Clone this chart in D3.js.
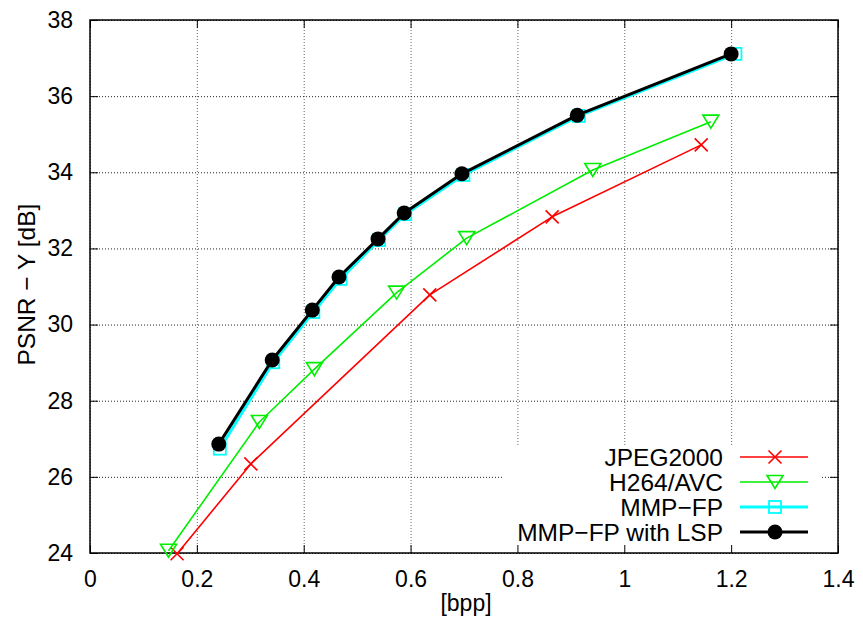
<!DOCTYPE html>
<html>
<head>
<meta charset="utf-8">
<script src="https://cdn.jsdelivr.net/npm/d3@7/dist/d3.min.js"></script>
<style>
  html, body { margin: 0; padding: 0; background: #fff; }
  text { font-family: "Liberation Sans", Arial, Helvetica, sans-serif; fill: #000; }
</style>
</head>
<body>
<svg id="chart" width="863" height="622"></svg>
<script>
// Rate–distortion curves: PSNR of the luma channel against bit rate.
const xTicks = [0, 0.2, 0.4, 0.6, 0.8, 1, 1.2, 1.4];
const xTickLabels = ["0", "0.2", "0.4", "0.6", "0.8", "1", "1.2", "1.4"];
const yTicks = [24, 26, 28, 30, 32, 34, 36, 38];
const yTickLabels = ["24", "26", "28", "30", "32", "34", "36", "38"];

const seriesNames = ["JPEG2000", "H264/AVC", "MMP\u2212FP", "MMP\u2212FP with LSP"];

const jpegRate = [0.163, 0.301, 0.636, 0.865, 1.144];
const jpegPsnr = [23.98, 26.34, 30.78, 32.83, 34.72];

const h264Rate = [0.147, 0.317, 0.420, 0.574, 0.705, 0.941, 1.162];
const h264Psnr = [24.06, 27.44, 28.83, 30.84, 32.27, 34.06, 35.33];

const mmpRate = [0.243, 0.343, 0.418, 0.469, 0.541, 0.590, 0.699, 0.915, 1.208];
const mmpPsnr = [26.74, 29.01, 30.33, 31.20, 32.22, 32.90, 33.93, 35.48, 37.11];

const lspRate = [0.241, 0.341, 0.416, 0.466, 0.539, 0.588, 0.696, 0.912, 1.200];
const lspPsnr = [26.86, 29.07, 30.38, 31.25, 32.25, 32.93, 33.96, 35.50, 37.11];

const svg = d3.select("#chart");
const margin = { left: 90, top: 20, right: 25, bottom: 69 };
const W = 863, H = 622;
const iw = W - margin.left - margin.right;
const ih = H - margin.top - margin.bottom;

const x = d3.scaleLinear().domain([0, 1.4]).range([0, iw]);
const y = d3.scaleLinear().domain([24, 38]).range([ih, 0]);

const g = svg.append("g").attr("transform", `translate(${margin.left},${margin.top})`);

// dotted grid
g.append("g")
  .attr("transform", `translate(0,${ih})`)
  .call(d3.axisBottom(x).tickValues(xTicks).tickSize(-ih).tickFormat(""))
  .call(a => a.select(".domain").remove())
  .call(a => a.selectAll("line").attr("stroke", "#666").attr("stroke-dasharray", "1,2"));
g.append("g")
  .call(d3.axisLeft(y).tickValues(yTicks).tickSize(-iw).tickFormat(""))
  .call(a => a.select(".domain").remove())
  .call(a => a.selectAll("line").attr("stroke", "#222").attr("stroke-dasharray", "1,2"));

// legend background clears the grid behind the key
const legend = { right: iw - 16, top: ih - 108, rowH: 25 };
g.append("rect")
  .attr("x", 412).attr("y", legend.top)
  .attr("width", legend.right - 412).attr("height", ih - legend.top)
  .attr("fill", "#fff");

// frame with inward ticks on all four sides
const tick = 8;
function styleAxis(a, fs) {
  a.select(".domain").remove();
  a.selectAll("line").attr("stroke", "#000").attr("stroke-width", 1);
  a.selectAll("text").attr("font-size", fs).attr("font-family", "Liberation Sans, Arial, sans-serif");
}
g.append("g")
  .attr("transform", `translate(0,${ih})`)
  .call(d3.axisBottom(x).tickValues(xTicks).tickSize(-tick).tickPadding(18)
    .tickFormat((d, i) => xTickLabels[i]))
  .call(a => styleAxis(a, 23));
g.append("g")
  .call(d3.axisTop(x).tickValues(xTicks).tickSize(-tick).tickFormat(""))
  .call(a => styleAxis(a, 23));
g.append("g")
  .call(d3.axisLeft(y).tickValues(yTicks).tickSize(-tick).tickPadding(17)
    .tickFormat((d, i) => yTickLabels[i]))
  .call(a => styleAxis(a, 23));
g.append("g")
  .attr("transform", `translate(${iw},0)`)
  .call(d3.axisRight(y).tickValues(yTicks).tickSize(-tick).tickFormat(""))
  .call(a => styleAxis(a, 23));

g.append("rect")
  .attr("width", iw).attr("height", ih)
  .attr("fill", "none").attr("stroke", "#000").attr("stroke-width", 1.5);

// axis titles
svg.append("text")
  .attr("x", margin.left + x(0.7) + 2).attr("y", 611)
  .attr("text-anchor", "middle").attr("font-size", 23)
  .text("[bpp]");
svg.append("text")
  .attr("transform", `translate(35,${margin.top + y(31.05)}) rotate(-90)`)
  .attr("text-anchor", "middle").attr("font-size", 24.5)
  .text("PSNR \u2212 Y [dB]");

// marker shapes
function drawMarker(sel, type, color) {
  if (type === "cross") {
    const s = 6.5;
    sel.append("path").attr("d", `M${-s},${-s}L${s},${s}M${-s},${s}L${s},${-s}`)
      .attr("stroke", color).attr("stroke-width", 1.6).attr("fill", "none");
  } else if (type === "tri") {
    sel.append("path").attr("d", "M-8,-6.5L8,-6.5L0,6.5Z")
      .attr("stroke", color).attr("stroke-width", 1.6).attr("fill", "none");
  } else if (type === "square") {
    sel.append("rect").attr("x", -6).attr("y", -6).attr("width", 12).attr("height", 12)
      .attr("stroke", color).attr("stroke-width", 1.8).attr("fill", "none");
  } else {
    sel.append("circle").attr("r", 7.5).attr("fill", color);
  }
}

const series = [
  { name: seriesNames[0], rate: jpegRate, psnr: jpegPsnr, color: "#ff0000", width: 1.6, marker: "cross" },
  { name: seriesNames[1], rate: h264Rate, psnr: h264Psnr, color: "#00ee00", width: 1.6, marker: "tri" },
  { name: seriesNames[2], rate: mmpRate, psnr: mmpPsnr, color: "#00ffff", width: 3, marker: "square" },
  { name: seriesNames[3], rate: lspRate, psnr: lspPsnr, color: "#000000", width: 3, marker: "circle" }
];

const line = d3.line().x(d => x(d[0])).y(d => y(d[1]));

series.forEach(s => {
  const pts = s.rate.map((r, i) => [r, s.psnr[i]]);
  g.append("path").datum(pts).attr("d", line)
    .attr("fill", "none").attr("stroke", s.color).attr("stroke-width", s.width)
    .attr("stroke-linejoin", "round");
  pts.forEach(p => {
    const m = g.append("g").attr("transform", `translate(${x(p[0])},${y(p[1])})`);
    drawMarker(m, s.marker, s.color);
  });
});

// key
series.forEach((s, i) => {
  const cy = legend.top + 12 + i * legend.rowH;
  const row = g.append("g");
  row.append("text")
    .attr("x", 633).attr("y", cy).attr("dy", "0.35em")
    .attr("text-anchor", "end").attr("font-size", 24.5)
    .text(s.name);
  row.append("line")
    .attr("x1", 650).attr("x2", 718).attr("y1", cy).attr("y2", cy)
    .attr("stroke", s.color).attr("stroke-width", s.width);
  const m = row.append("g").attr("transform", `translate(685,${cy})`);
  drawMarker(m, s.marker, s.color);
});
</script>
</body>
</html>
